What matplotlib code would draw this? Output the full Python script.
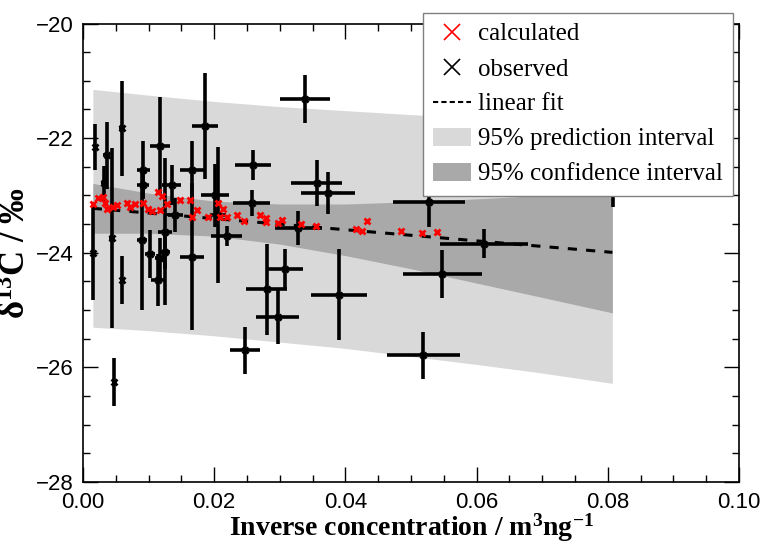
import numpy as np
import matplotlib
matplotlib.use('Agg')
from matplotlib import pyplot as plt
from matplotlib.lines import Line2D
from matplotlib.patches import Patch

plt.rcParams['font.family'] = ['Liberation Sans', 'DejaVu Sans']
plt.rcParams['mathtext.default'] = 'regular'

# observed values (x = inverse concentration, y = delta13C) with error bars
obs_x = [0.0018, 0.0016, 0.0036, 0.0032, 0.0044, 0.0059, 0.0059, 0.0048, 0.0092, 0.0092,
         0.0090, 0.0102, 0.0117, 0.0114, 0.0125, 0.0135, 0.0141, 0.0166, 0.0166, 0.0186,
         0.0201, 0.0206, 0.0219, 0.0259, 0.0257, 0.0247, 0.0280, 0.0308, 0.0297, 0.0328,
         0.0338, 0.0356, 0.0374, 0.0390, 0.0519, 0.0528, 0.0548, 0.0611, 0.0808, 0.0117,
         0.0125]
obs_y = [-22.15, -24.01, -22.30, -22.79, -23.75, -21.83, -24.47, -26.26, -22.55, -22.81,
         -23.77, -24.02, -22.14, -24.48, -23.63, -22.82, -23.34, -22.55, -24.07, -21.79,
         -23.00, -23.34, -23.71, -22.47, -23.13, -25.70, -24.64, -24.29, -25.12, -23.57,
         -21.31, -22.79, -22.96, -24.73, -25.79, -23.11, -24.37, -23.84, -22.90, -24.10,
         -23.98]
obs_xerr = [0.0003, 0.0003, 0.0005, 0.0004, 0.0004, 0.0004, 0.0003, 0.0003, 0.0010, 0.0009,
            0.0008, 0.0008, 0.0015, 0.0011, 0.0010, 0.0015, 0.0012, 0.0018, 0.0018, 0.0020,
            0.0021, 0.0012, 0.0024, 0.0028, 0.0028, 0.0023, 0.0031, 0.0028, 0.0033, 0.0036,
            0.0038, 0.0039, 0.0041, 0.0043, 0.0056, 0.0055, 0.0060, 0.0067, 0.0003, 0.0008,
            0.0008]
obs_yerr = [0.40, 0.82, 0.58, 0.30, 1.57, 0.83, 0.42, 0.42, 0.50, 0.25,
            1.23, 0.42, 0.85, 0.45, 1.28, 0.35, 0.30, 0.50, 1.28, 0.93,
            0.55, 1.18, 0.17, 0.26, 0.23, 0.41, 0.80, 0.35, 0.47, 0.30,
            0.42, 0.40, 0.36, 0.80, 0.41, 0.44, 0.42, 0.25, 0.30, 0.35,
            0.30]

# calculated values
calc_x = [0.00157, 0.00233, 0.00309, 0.00335, 0.00361, 0.00461, 0.00513, 0.00665, 0.00716, 0.00792,
          0.00918, 0.00994, 0.01046, 0.01147, 0.01198, 0.01173, 0.01284, 0.01477, 0.01629, 0.01655,
          0.0174, 0.01908, 0.0206, 0.02086, 0.02127, 0.02188, 0.0235, 0.02452, 0.02695, 0.02797,
          0.02797, 0.02974, 0.03041, 0.0333, 0.03548, 0.04168, 0.04259, 0.04335, 0.04842, 0.05167,
          0.05401]
calc_y = [-23.15, -23.05, -23.02, -23.14, -23.23, -23.20, -23.17, -23.14, -23.20, -23.15,
          -23.13, -23.23, -23.27, -22.94, -23.01, -23.25, -23.15, -23.08, -23.08, -23.37,
          -23.25, -23.38, -23.14, -23.37, -23.23, -23.37, -23.35, -23.44, -23.34, -23.46,
          -23.40, -23.49, -23.43, -23.50, -23.53, -23.59, -23.62, -23.45, -23.62, -23.65,
          -23.63]

# linear fit and its bands
fit_x = [0.0015, 0.0807]
fit_y = [-23.225, -23.994]
band_x = [0.0015, 0.01, 0.02, 0.03, 0.04, 0.05, 0.06, 0.07, 0.0807]
pred_hi = [-21.15, -21.25, -21.36, -21.45, -21.52, -21.59, -21.64, -21.68, -21.71]
pred_lo = [-25.30, -25.36, -25.45, -25.56, -25.67, -25.81, -25.95, -26.10, -26.28]
conf_hi = [-22.79, -22.96, -23.10, -23.15, -23.15, -23.11, -23.06, -23.00, -22.93]
conf_lo = [-23.66, -23.66, -23.71, -23.85, -24.05, -24.28, -24.53, -24.78, -25.05]

fig = plt.figure(figsize=(7.65, 5.47), dpi=100)
ax = fig.add_axes([0.1085, 0.119, 0.8575, 0.838])

ax.fill_between(band_x, pred_lo, pred_hi, color='#d9d9d9', lw=0, zorder=1)
ax.fill_between(band_x, conf_lo, conf_hi, color='#a9a9a9', lw=0, zorder=2)
ax.plot(fit_x, fit_y, color='black', lw=2.2, linestyle=(0, (3, 3)), zorder=3)
ax.errorbar(obs_x, obs_y, xerr=obs_xerr, yerr=obs_yerr, fmt='x', color='black',
            ms=5, mew=2, elinewidth=2.6, capsize=0, zorder=4)
ax.plot(calc_x, calc_y, 'x', color='red', ms=5, mew=2, zorder=5)

ax.set_xlim(0, 0.1)
ax.set_ylim(-28, -20)
ax.set_xticks(np.arange(0, 0.1001, 0.02))
ax.set_xticks(np.arange(0, 0.1001, 0.005), minor=True)
ax.set_yticks(np.arange(-28, -19.9, 2))
ax.set_yticks(np.arange(-28, -19.9, 0.5), minor=True)
ax.set_xticklabels(['0.00', '0.02', '0.04', '0.06', '0.08', '0.10'])
ax.tick_params(which='both', direction='in', top=True, right=True, labelsize=16, width=1)
ax.tick_params(which='major', length=11, pad=7)
ax.tick_params(which='minor', length=5)
for s in ax.spines.values():
    s.set_linewidth(1.2)

serif = ['Liberation Serif', 'DejaVu Serif']
ax.set_xlabel('Inverse concentration / m$^{3}$ng$^{-1}$', family=serif,
              fontsize=20, fontweight='bold', labelpad=-1)
ax.set_ylabel('δ$^{13}$C / ‰', family=serif, fontsize=25, fontweight='bold', labelpad=2)

handles = [Line2D([], [], marker='x', color='red', ls='none', ms=12, mew=1.2),
           Line2D([], [], marker='x', color='black', ls='none', ms=12, mew=1.2),
           Line2D([], [], color='black', ls=(0, (2.5, 1.5)), lw=1.5),
           Patch(facecolor='#d9d9d9', edgecolor='none'),
           Patch(facecolor='#a9a9a9', edgecolor='none')]
labels = ['calculated', 'observed', 'linear fit',
          '95% prediction interval', '95% confidence interval']
fig.legend(handles, labels, loc='upper right', bbox_to_anchor=(733 / 765, 1 - 13 / 547),
           bbox_transform=fig.transFigure, borderaxespad=0, fancybox=False,
           framealpha=1, edgecolor='#808080', prop={'family': serif, 'size': 18},
           handlelength=1.5, handletextpad=0.3, labelspacing=0.5, borderpad=0.4)

fig.savefig('out.png', dpi=100)
